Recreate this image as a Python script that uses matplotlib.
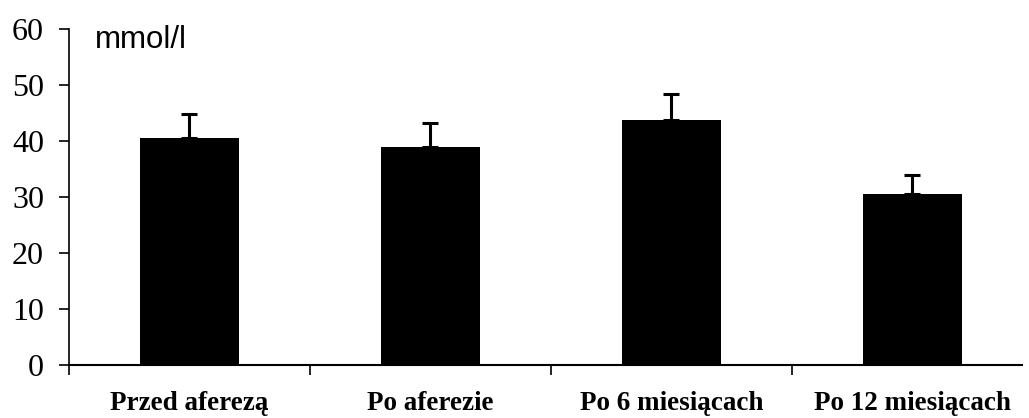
import numpy as np
import matplotlib.pyplot as plt

# Values
categories = ['Przed aferezą', 'Po aferezie', 'Po 6 miesiącach', 'Po 12 miesiącach']
means = [40.5, 39.0, 43.7, 30.5]
err_up = [4.3, 4.2, 4.7, 3.4]

fig = plt.figure(figsize=(10.29, 4.18), dpi=100)
ax = fig.add_axes([69 / 1029, 53 / 418, (1022 - 69) / 1029, (365 - 29) / 418])

x = np.arange(len(categories))
ax.bar(x, means, width=0.41, color='black', zorder=2)
ax.errorbar(x, means, yerr=[np.zeros(len(means)), err_up], fmt='none',
            ecolor='black', elinewidth=2.2, capsize=6, capthick=2.2, zorder=3)

ax.set_ylim(0, 60)
ax.set_xlim(-0.5, 3.455)
ax.set_yticks(range(0, 61, 10))
ax.tick_params(axis='y', direction='out', length=7, width=1.2, pad=11,
               labelsize=23)
for lab in ax.get_yticklabels():
    lab.set_fontfamily('Liberation Serif')

ax.set_xticks(x)
ax.set_xticklabels(categories, fontfamily='Liberation Serif',
                   fontweight='bold', fontsize=19.5)
ax.tick_params(axis='x', which='major', length=0, pad=19)
ax.set_xticks(np.arange(-0.5, 3.5, 1), minor=True)
ax.tick_params(axis='x', which='minor', direction='out', length=7, width=1.2)

ax.spines['top'].set_visible(False)
ax.spines['right'].set_visible(False)
ax.spines['left'].set_linewidth(1.2)
ax.spines['bottom'].set_linewidth(1.5)

ax.text(95 / 1029, 1 - 48 / 418, 'mmol/l', transform=fig.transFigure,
        fontfamily='Liberation Sans', fontsize=22.5, va='baseline', ha='left')

fig.savefig('out.png', dpi=100)
